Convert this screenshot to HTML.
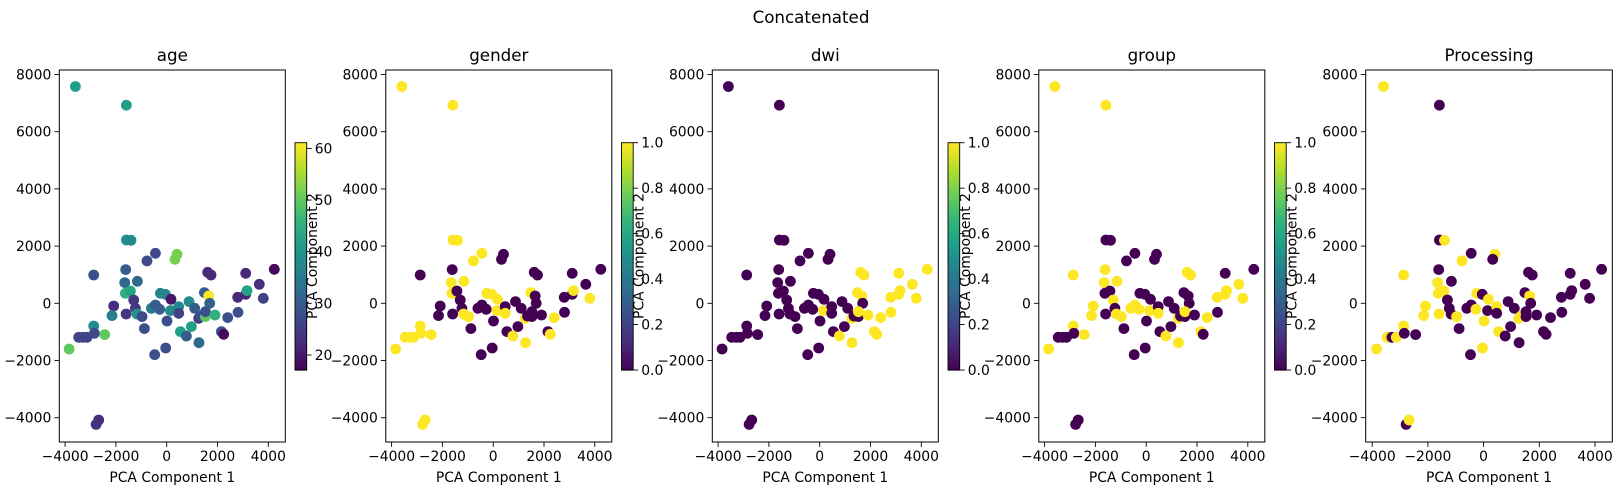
<!DOCTYPE html>
<html><head><meta charset="utf-8">
<style>
html,body{margin:0;padding:0;background:#fff;}
svg{display:block;font-family:"DejaVu Sans","Liberation Sans",sans-serif;}
</style></head>
<body>
<svg id="fig" width="1622" height="500" viewBox="0 0 1622 500" xmlns="http://www.w3.org/2000/svg">
<text x="811" y="23" font-size="16.7" text-anchor="middle">Concatenated</text>
</svg>
<script>
const pcX=[-3595,-1587,-1587,-1404,-446,-774,407,328,-2873,-1614,-1653,-1155,-1627,-1430,-1299,-2086,-2152,-1600,-1233,-1168,-971,-879,-604,-446,-276,-249,-52,171,13,-472,-39,144,472,472,538,774,879,1102,971,1273,1260,1351,1522,1483,1653,1692,1614,1745,1522,1902,2152,2244,2401,2808,2795,3110,3162,3110,3647,3805,4238,-3844,-3464,-3293,-3136,-2873,-2847,-2440,-2781,-2676];
const pcY=[7579,6926,2215,2204,1749,1481,1714,1539,991,1178,723,770,350,431,117,-93,-431,-373,-175,-373,-466,-886,-175,-58,-210,350,315,140,-618,-1796,-1562,-256,-117,-350,-991,-1143,58,-175,-816,-1376,-525,-443,-466,373,256,0,1084,991,-292,-408,-991,-1084,-501,-315,210,315,443,1049,665,175,1189,-1597,-1189,-1189,-1189,-793,-1049,-1096,-4233,-4081];
const ageVals=[42,42,38,38,27,27,52,52,28,30,32,32,45,43,24,23,36,24,24,40,27,28,35,30,30,37,37,20,28,28,28,38,38,26,42,30,38,30,42,32,24,28,50,30,61,31,22,22,28,45,28,18,28,28,22,22,43,22,23,26,18,50,26,26,26,38,27,50,23,23];
const genderVals=[1,1,1,1,1,1,0,0,0,0,1,1,1,0,0,0,0,0,0,1,1,0,0,0,0,1,1,1,0,0,0,1,0,1,0,1,0,0,0,1,1,0,0,1,0,0,0,0,0,0,0,1,1,0,0,0,1,0,0,1,0,1,1,1,1,1,1,1,1,1];
const dwiVals=[0,0,0,0,0,0,0,0,0,0,0,0,0,0,0,0,0,0,0,0,0,0,0,0,0,0,0,0,0,0,0,1,0,0,0,1,0,0,0,1,1,0,0,1,1,0,1,1,1,1,1,1,1,1,1,1,1,1,1,1,1,0,0,0,0,0,0,0,0,0];
const groupVals=[1,1,0,0,0,0,0,0,1,1,1,1,0,0,1,1,1,0,0,1,1,0,1,1,1,0,0,0,0,0,0,1,0,1,0,1,0,0,0,1,1,0,0,0,0,0,1,1,1,0,1,0,1,0,1,1,1,0,1,1,0,1,0,0,0,1,0,1,0,0];
const procVals=[1,0,0,1,0,1,1,0,1,0,1,0,1,1,0,1,1,1,0,0,1,0,0,0,1,1,0,1,1,0,1,0,1,0,1,0,0,0,0,0,1,1,0,0,1,0,0,0,0,0,0,0,0,0,0,0,0,0,0,0,0,1,1,0,1,1,0,0,0,1];
const panelTitles=["age","gender","dwi","group","Processing"];
const xTicks=[-4000,-2000,0,2000,4000];
const yTicks=[-4000,-2000,0,2000,4000,6000,8000];
const ageTicks=[20,30,40,50,60];
const binTicks=[0,0.2,0.4,0.6,0.8,1.0];

const NS="http://www.w3.org/2000/svg";
const svg=document.getElementById('fig');
function mk(tag,attrs,parent){const e=document.createElementNS(NS,tag);for(const k in attrs)e.setAttribute(k,attrs[k]);(parent||svg).appendChild(e);return e;}
const VIR=[[68,1,84],[72,40,120],[62,73,137],[49,104,142],[38,130,142],[31,158,137],[53,183,121],[110,206,88],[181,222,43],[253,231,37]];
function viridis(t){t=Math.max(0,Math.min(1,t));const p=t*(VIR.length-1);const i=Math.min(Math.floor(p),VIR.length-2);const f=p-i;const a=VIR[i],b=VIR[i+1];return `rgb(${Math.round(a[0]+(b[0]-a[0])*f)},${Math.round(a[1]+(b[1]-a[1])*f)},${Math.round(a[2]+(b[2]-a[2])*f)})`;}
const fmt=v=>String(v).replace('-','\u2212');
const TOP=70,BOT=442;
const yS=v=>303.3-v*0.0286;
const panels=[
 {L:59.3,W:226,x0:166.7,sx:0.0254,vals:ageVals,vmin:17.1,vmax:61.1,cb:ageTicks,dec:0},
 {L:385.8,W:226,x0:493.2,sx:0.0254,vals:genderVals,vmin:0,vmax:1,cb:binTicks,dec:1},
 {L:712.3,W:226,x0:819.7,sx:0.0254,vals:dwiVals,vmin:0,vmax:1,cb:binTicks,dec:1},
 {L:1038.8,W:226,x0:1146.2,sx:0.0254,vals:groupVals,vmin:0,vmax:1,cb:binTicks,dec:1},
 {L:1365.7,W:246.6,x0:1483.6,sx:0.02785,vals:procVals,vmin:0,vmax:1,cb:null,dec:1}
];
panels.forEach((p,pi)=>{
  const g=mk('g',{});
  
  
  const xS=v=>p.x0+v*p.sx;
  const pts=mk('g',{},g);
  
  
  for(let i=0;i<pcX.length;i++){
    const c=mk('circle',{cx:xS(pcX[i]).toFixed(1),cy:yS(pcY[i]).toFixed(1),r:5.4,fill:viridis((p.vals[i]-p.vmin)/(p.vmax-p.vmin))},pts);
    
    
  }
  const fr=mk('rect',{x:p.L,y:TOP,width:p.W,height:BOT-TOP,fill:'none',stroke:'#000','stroke-width':1},g);
  
  
  xTicks.forEach(t=>{
    const x=xS(t);
    mk('line',{x1:x,x2:x,y1:BOT,y2:BOT+4.9,stroke:'#000','stroke-width':0.9},g);
    const tx=mk('text',{x:x,y:BOT+19,'font-size':13.9,'text-anchor':'middle'},g);
    tx.textContent=fmt(t);
    
    
  });
  yTicks.forEach(t=>{
    const y=yS(t);
    mk('line',{x1:p.L-4.9,x2:p.L,y1:y,y2:y,stroke:'#000','stroke-width':0.9},g);
    const tx=mk('text',{x:p.L-8,y:y+5,'font-size':13.9,'text-anchor':'end'},g);
    tx.textContent=fmt(t);
    
    
  });
  const tt=mk('text',{x:p.L+p.W/2,y:61,'font-size':16.7,'text-anchor':'middle'},g);
  tt.textContent=panelTitles[pi];
  
  
  const xl=mk('text',{x:p.L+p.W/2,y:482,'font-size':13.9,'text-anchor':'middle'},g);
  xl.textContent='PCA Component 1';
  
  
  if(pi>0){
    const yx=p.L-69,yy=(TOP+BOT)/2;
    const yl=mk('text',{x:yx,y:yy,'font-size':13.9,'text-anchor':'middle',transform:`rotate(-90 ${yx} ${yy})`},g);
    yl.textContent='PCA Component 2';
    
    
  }
  if(p.cb){
    const cx=p.L+235.7,cw=11.7,ct=142.7,cbt=370;
    const cg=mk('g',{},g);
    
    
    const n=60;
    for(let k=0;k<n;k++){
      const t0=k/n;
      mk('rect',{x:cx,y:(cbt-(k+1)/n*(cbt-ct)).toFixed(2),width:cw,height:((cbt-ct)/n+0.6).toFixed(2),fill:viridis(t0+0.5/n)},cg);
    }
    mk('rect',{x:cx,y:ct,width:cw,height:cbt-ct,fill:'none',stroke:'#000','stroke-width':0.9},cg);
    p.cb.forEach(t=>{
      const y=cbt-(t-p.vmin)/(p.vmax-p.vmin)*(cbt-ct);
      mk('line',{x1:cx+cw,x2:cx+cw+4.9,y1:y,y2:y,stroke:'#000','stroke-width':0.9},cg);
      const tx=mk('text',{x:cx+cw+8,y:y+5,'font-size':13.9},cg);
      tx.textContent=t.toFixed(p.dec);
      
      
    });
  }
});
</script>
</body></html>
